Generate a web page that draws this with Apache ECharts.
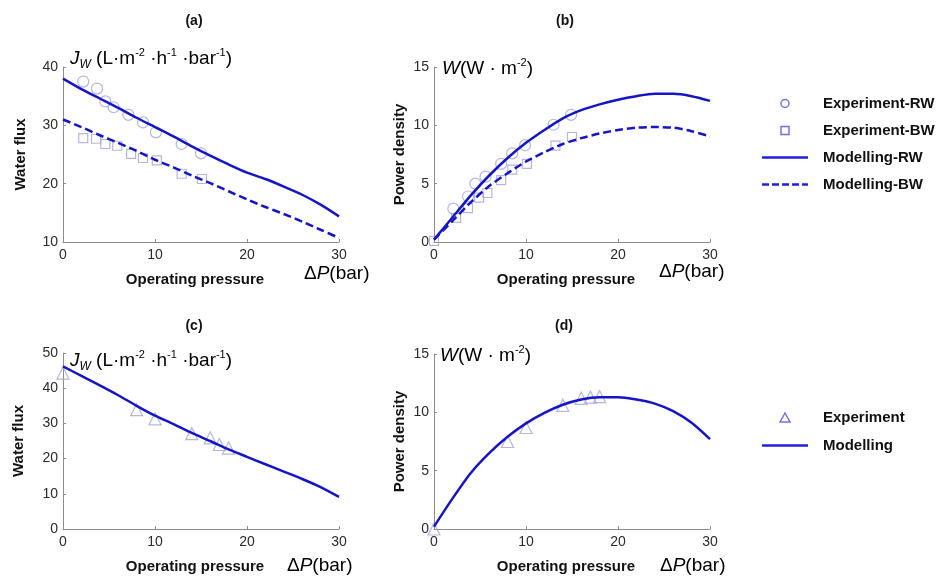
<!DOCTYPE html>
<html>
<head>
<meta charset="utf-8">
<title>Water flux and power density</title>
<script src="https://cdn.jsdelivr.net/npm/echarts@6/dist/echarts.min.js"></script>
<style>
  html, body { margin: 0; padding: 0; background: #fff; }
  #chart { width: 937px; height: 582px; }
</style>
</head>
<body>
<div id="chart"></div>
<script>
// 模型曲线的横坐标 (bar)
const pressureModel = [0, 2, 4, 6, 8, 10, 12, 14, 16, 18, 20, 22, 24, 26, 28, 30];

// (a) 水通量
const fluxModelRW = [38.0, 36.2, 34.6, 33.0, 31.3, 29.7, 28.1, 26.4, 24.8, 23.3, 21.9, 20.8, 19.5, 18.1, 16.4, 14.4];
const fluxModelBW = [31.0, 29.7, 28.3, 27.0, 25.6, 24.1, 22.8, 21.4, 20.1, 18.7, 17.3, 16.0, 14.8, 13.5, 12.1, 10.7];
const fluxExpPressureRW = [2.2, 3.7, 4.6, 5.5, 7.1, 8.7, 10.1, 12.9, 15.0];
const fluxExpRW = [37.5, 36.3, 34.1, 33.1, 31.8, 30.5, 28.8, 26.8, 25.2];
const fluxExpPressureBW = [2.2, 3.6, 4.6, 5.9, 7.4, 8.7, 10.2, 12.9, 15.1];
const fluxExpBW = [27.8, 27.7, 26.8, 26.5, 25.1, 24.4, 24.0, 21.7, 20.8];

// (b) 功率密度
const powerModelRW = [0.2, 2.1, 4.0, 5.7, 7.2, 8.5, 9.6, 10.6, 11.3, 11.8, 12.2, 12.5, 12.7, 12.7, 12.5, 12.1];
const powerModelBW = [0.2, 1.8, 3.4, 4.8, 5.9, 6.9, 7.7, 8.4, 8.9, 9.3, 9.6, 9.8, 9.85, 9.8, 9.5, 9.05];
const powerExpPressureRW = [2.1, 3.7, 4.5, 5.6, 7.3, 8.5, 9.9, 13.0, 14.9];
const powerExpRW = [2.86, 3.9, 5.0, 5.6, 6.7, 7.6, 8.3, 10.05, 10.9];
const powerExpPressureBW = [0, 2.4, 3.7, 4.9, 5.8, 7.3, 8.5, 10.1, 13.2, 15.0];
const powerExpBW = [0.1, 2.06, 2.9, 3.8, 4.2, 5.3, 6.2, 6.7, 8.26, 9.0];

// (c) 水通量 (单一料液)
const fluxModel = [46.2, 43.5, 40.8, 38.0, 35.0, 32.2, 29.8, 27.3, 25.0, 22.6, 20.5, 18.4, 16.3, 14.2, 11.9, 9.1];
const expPressure = [0, 8, 10, 14, 16, 17, 18];
const fluxExp = [44.3, 33.9, 31.3, 27.1, 25.9, 24.0, 23.0];

// (d) 功率密度 (单一料液)
const powerModel = [0.2, 2.6, 4.8, 6.5, 7.9, 9.05, 9.95, 10.65, 11.1, 11.3, 11.3, 11.1, 10.75, 10.1, 9.1, 7.7];
const powerExp = [0, 7.5, 8.7, 10.6, 11.2, 11.3, 11.35];

const pairs = (xs, ys) => xs.map((x, i) => [x, ys[i]]);

const lineColor = "#1414c8";
const markColor = "#a2a2d6";
const legendMark = "#4f4fe0";
const font = "Liberation Sans, Arial, sans-serif";

// 共用的坐标轴样式
const axisLine = { show: true, lineStyle: { color: "#8c8c8c", width: 1 } };
const axisTick = { show: true, inside: true, length: 3, lineStyle: { color: "#8c8c8c" } };
const axisLabel = { color: "#2b2b2b", fontSize: 14, fontFamily: font, margin: 6 };
const nameStyle = { color: "#111", fontSize: 15, fontWeight: "bold", fontFamily: font };

const makeX = (gridIndex) => ({
  type: "value",
  gridIndex,
  min: 0,
  max: 30,
  interval: 10,
  name: "Operating pressure",
  nameLocation: "middle",
  nameGap: 30,
  nameTextStyle: Object.assign({ padding: [0, 12, 0, 0] }, nameStyle),
  axisLine,
  axisTick,
  axisLabel,
  splitLine: { show: false },
});

const makeY = (gridIndex, min, max, interval, name, gap) => ({
  type: "value",
  gridIndex,
  min,
  max,
  interval,
  name,
  nameLocation: "middle",
  nameGap: gap,
  nameTextStyle: nameStyle,
  axisLine,
  axisTick,
  axisLabel: Object.assign({}, axisLabel, { margin: 5 }),
  splitLine: { show: false },
});

const modelLine = (name, idx, data, dashed) => ({
  name,
  type: "line",
  xAxisIndex: idx,
  yAxisIndex: idx,
  data,
  symbol: "none",
  smooth: 0.25,
  lineStyle: { color: lineColor, width: 2.5, type: dashed ? [8, 4] : "solid" },
  itemStyle: { color: lineColor },
  z: 3,
});

const expPoints = (name, idx, data, symbol, size) => ({
  name,
  type: "scatter",
  xAxisIndex: idx,
  yAxisIndex: idx,
  data,
  symbol,
  symbolSize: size,
  itemStyle: { color: "transparent", borderColor: markColor, borderWidth: 1.2 },
  z: 2,
});

// 富文本样式
const rich = {
  n: { fontSize: 19, fontFamily: font, color: "#111", lineHeight: 23 },
  i: { fontSize: 19, fontFamily: font, fontStyle: "italic", color: "#111", lineHeight: 23 },
  sub: { fontSize: 12, fontFamily: font, fontStyle: "italic", color: "#111", verticalAlign: "bottom", lineHeight: 12 },
  sup: { fontSize: 11, fontFamily: font, color: "#111", verticalAlign: "top", lineHeight: 11 },
};
const jwText = "{i|J}{sub|W}{n| (L·m}{sup|-2}{n| ·h}{sup|-1}{n| ·bar}{sup|-1}{n|)}";
const wText = "{i|W}{n|(W · m}{sup|-2}{n|)}";
const dpText = "{n|Δ}{i|P}{n|(bar)}";

const label = (x, y, text) => ({
  type: "text",
  x,
  y,
  style: { text, rich, align: "left", verticalAlign: "middle" },
});
const panelTitle = (x, y, text) => ({
  type: "text",
  x,
  y,
  style: { text, font: "bold 14px " + font, fill: "#111", align: "center", verticalAlign: "middle" },
});

// 图例图标
const squareIcon = "path://M0,0H10V10H0Z";
const triangleIcon = "path://M5,0L10,9H0Z";
const solidIcon = "path://M0,0H46V2.5H0Z";
const dashIcon = "path://M0,0H7V2.5H0ZM10,0H17V2.5H10ZM20,0H27V2.5H20ZM30,0H37V2.5H30ZM40,0H46V2.5H40Z";

const legendText = { color: "#111", fontSize: 15, fontWeight: "bold", fontFamily: font, lineHeight: 15, padding: [0, 0, 0, 10] };
const hollow = { color: "transparent", borderColor: legendMark, borderWidth: 1.5 };
const filled = { color: "#2020e0", borderWidth: 0 };

const chart = echarts.init(document.getElementById("chart"), null, { renderer: "canvas" });

const option = {
  animation: false,
  backgroundColor: "#fff",
  grid: [
    { left: 63, top: 67, width: 276, height: 175 },
    { left: 434, top: 67, width: 276, height: 175 },
    { left: 63, top: 353, width: 276, height: 176 },
    { left: 434, top: 354, width: 276, height: 175 },
  ],
  xAxis: [makeX(0), makeX(1), makeX(2), makeX(3)],
  yAxis: [
    makeY(0, 10, 40, 10, "Water flux", 35),
    makeY(1, 0, 15, 5, "Power density", 27),
    makeY(2, 0, 50, 10, "Water flux", 37),
    makeY(3, 0, 15, 5, "Power density", 27),
  ],
  legend: [
    {
      orient: "vertical",
      left: 757,
      top: 91,
      itemWidth: 46,
      itemHeight: 8,
      itemGap: 12,
      selectedMode: false,
      textStyle: legendText,
      data: [
        { name: "Experiment-RW", icon: "circle", itemStyle: hollow },
        { name: "Experiment-BW", icon: squareIcon, itemStyle: hollow },
        { name: "Modelling-RW", icon: solidIcon, itemStyle: filled },
        { name: "Modelling-BW", icon: dashIcon, itemStyle: filled },
      ],
    },
    {
      orient: "vertical",
      left: 757,
      top: 405,
      itemWidth: 46,
      itemHeight: 9,
      itemGap: 13,
      selectedMode: false,
      textStyle: legendText,
      data: [
        { name: "Experiment", icon: triangleIcon, itemStyle: hollow },
        { name: "Modelling", icon: solidIcon, itemStyle: filled },
      ],
    },
  ],
  graphic: [
    panelTitle(194, 21, "(a)"),
    panelTitle(565, 21, "(b)"),
    panelTitle(194, 326, "(c)"),
    panelTitle(564, 326, "(d)"),
    label(70, 59, jwText),
    label(442, 69, wText),
    label(70, 361, jwText),
    label(440, 356, wText),
    label(304, 274, dpText),
    label(659, 272, dpText),
    label(287, 566, dpText),
    label(660, 566, dpText),
  ],
  series: [
    // (a)
    expPoints("Experiment-RW", 0, pairs(fluxExpPressureRW, fluxExpRW), "circle", 11),
    expPoints("Experiment-BW", 0, pairs(fluxExpPressureBW, fluxExpBW), "rect", 9),
    modelLine("Modelling-RW", 0, pairs(pressureModel, fluxModelRW), false),
    modelLine("Modelling-BW", 0, pairs(pressureModel, fluxModelBW), true),
    // (b)
    expPoints("Experiment-RW", 1, pairs(powerExpPressureRW, powerExpRW), "circle", 11),
    expPoints("Experiment-BW", 1, pairs(powerExpPressureBW, powerExpBW), "rect", 9),
    modelLine("Modelling-RW", 1, pairs(pressureModel, powerModelRW), false),
    modelLine("Modelling-BW", 1, pairs(pressureModel, powerModelBW), true),
    // (c)
    expPoints("Experiment", 2, pairs(expPressure, fluxExp), "triangle", 12),
    modelLine("Modelling", 2, pairs(pressureModel, fluxModel), false),
    // (d)
    expPoints("Experiment", 3, pairs(expPressure, powerExp), "triangle", 12),
    modelLine("Modelling", 3, pairs(pressureModel, powerModel), false),
  ],
};

chart.setOption(option);

window.addEventListener("resize", function () {
  chart.resize();
});
</script>
</body>
</html>
